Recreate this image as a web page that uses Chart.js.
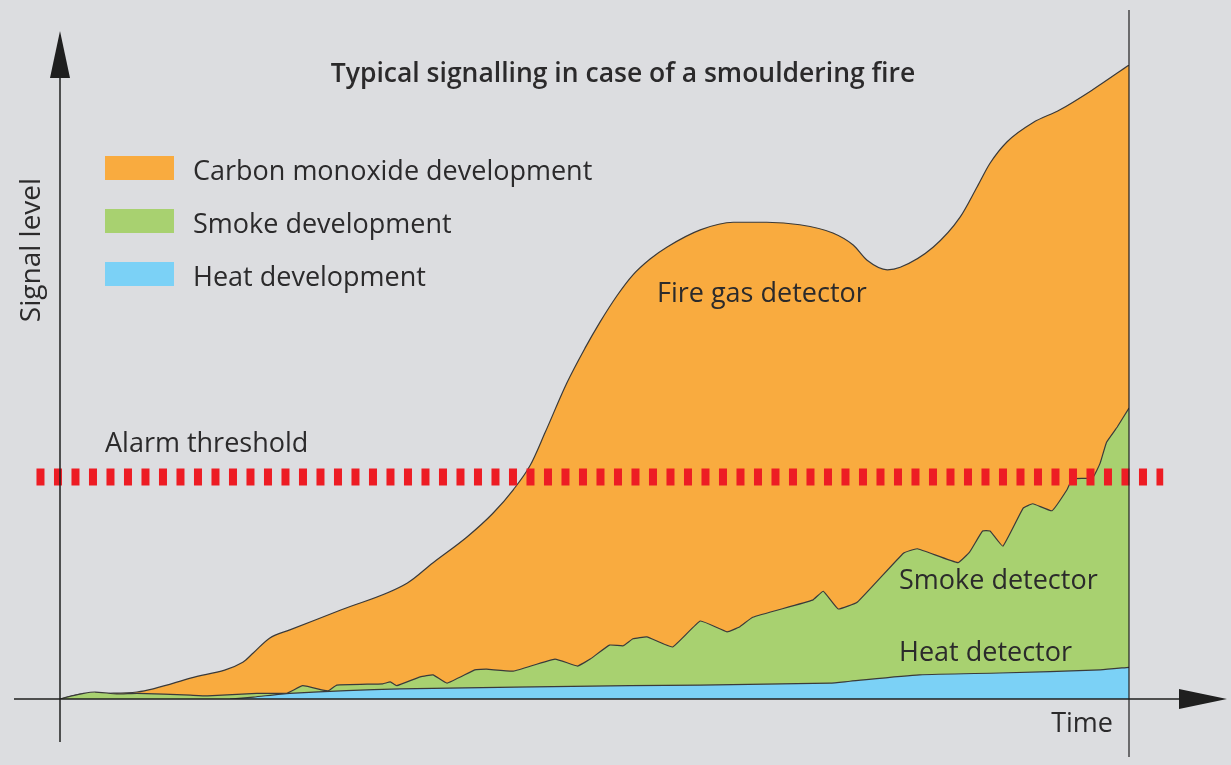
<!DOCTYPE html>
<html>
<head>
<meta charset="utf-8">
<script src="https://cdn.jsdelivr.net/npm/chart.js@4.4.1/dist/chart.umd.min.js"></script>
<style>
  html, body { margin: 0; padding: 0; background: #dcdde0; }
  #wrap { width: 1231px; height: 765px; }
</style>
</head>
<body>
<div id="wrap"><canvas id="chart" width="1231" height="765"></canvas></div>
<script>
const TITLE = 'Typical signalling in case of a smouldering fire';
const SERIES_NAMES = ['Carbon monoxide development', 'Smoke development', 'Heat development'];
const DETECTOR_LABELS = ['Fire gas detector', 'Smoke detector', 'Heat detector'];
const AXIS_X_LABEL = 'Time';
const AXIS_Y_LABEL = 'Signal level';
const THRESHOLD_LABEL = 'Alarm threshold';

// Alarm threshold level and its horizontal span (in time units)
const THRESHOLD = 35;
const THRESHOLD_SPAN = [-2.2, 103.2];

// Carbon monoxide (fire gas) signal
const coTime  = [0, 2.2, 4.5, 7.2, 12.2, 17.1, 18.1, 19.6, 21.5, 26.2, 32.5, 34.9, 38.1, 40.5, 42.4, 44.0, 45.4, 47.4,
                 49.1, 50.5, 52.1, 53.6, 55.2, 56.8, 59.9, 63.0, 66.1, 69.2, 72.3, 74.2, 75.5, 77.4, 78.6, 81.7, 84.2,
                 85.8, 87.0, 88.6, 91.0, 93.5, 96.6, 100];
const coLevel = [0, 0.8, 0.9, 1.1, 3.3, 5.8, 7.3, 9.6, 10.9, 14.0, 18.3, 21.5, 25.6, 29.3, 33.0, 36.9, 42.1, 49.8,
                 55.3, 59.4, 63.6, 66.9, 69.4, 71.3, 74.0, 75.2, 75.2, 74.8, 73.5, 71.6, 69.2, 67.7, 68.1, 71.3, 76.0,
                 80.8, 84.5, 87.9, 90.9, 92.9, 96.1, 100];

// Smoke signal
const smokeTime  = [0, 1.1, 2.2, 3.3, 5.3, 7.2, 12.2, 13.8, 18.4, 21.2, 22.7, 24.6, 25.1, 25.9, 30.2, 30.9, 31.5, 33.7,
                    34.9, 36.2, 38.8, 39.9, 42.4, 46.3, 48.4, 49.6, 51.4, 52.7, 53.6, 54.9, 57.3, 59.9, 62.4, 63.6,
                    64.8, 70.4, 71.4, 72.8, 74.6, 78.9, 80.2, 84.0, 85.1, 86.3, 87.0, 88.2, 90.1, 91.0, 92.8, 94.2,
                    94.7, 96.6, 97.3, 97.9, 98.9, 100];
const smokeLevel = [0, 0.5, 0.9, 1.1, 0.8, 0.9, 0.6, 0.5, 0.9, 0.9, 2.1, 1.4, 1.3, 2.2, 2.4, 2.7, 2.1, 3.5,
                    3.8, 2.5, 4.6, 4.7, 4.4, 6.3, 5.2, 6.3, 8.5, 8.4, 9.5, 9.8, 8.2, 12.3, 10.6, 11.4,
                    12.9, 15.6, 17.0, 14.2, 15.3, 23.0, 23.7, 21.5, 23.2, 26.5, 26.5, 24.1, 30.1, 30.8, 29.7, 33.0,
                    34.7, 34.9, 37.2, 40.5, 42.9, 45.9];

// Heat signal
const heatTime  = [15.9, 18.1, 21.5, 31.8, 53.3, 59.9, 72.0, 73.9, 80.4, 87.9, 97.3, 100];
const heatLevel = [0, 0.3, 0.9, 1.6, 2.1, 2.2, 2.5, 2.8, 3.8, 4.1, 4.6, 5.0];

const COLORS = {
  co:     '#f9ab3f',
  smoke:  '#a8d170',
  heat:   '#7bd1f6',
  alarm:  '#ed1c24',
  ink:    '#2b2a2b',
  edge:   '#3a3a3a'
};
const FONT = '"Open Sans", "Noto Sans", sans-serif';

const toPoints = (xs, ys) => xs.map((t, i) => ({ x: t, y: ys[i] }));

function areaSet(label, xs, ys, color, tension, smooth) {
  return {
    label,
    data: toPoints(xs, ys),
    backgroundColor: color,
    borderColor: COLORS.edge,
    borderWidth: 1.2,
    fill: 'origin',
    tension,
    cubicInterpolationMode: smooth ? 'monotone' : 'default',
    pointRadius: 0
  };
}

const overlay = {
  id: 'overlay',
  afterDatasetsDraw(chart) {
    const { ctx, scales: { x, y } } = chart;
    const x0 = x.getPixelForValue(0), x1 = x.getPixelForValue(100);
    const y0 = y.getPixelForValue(0);

    ctx.save();
    ctx.strokeStyle = '#1f1f1f';
    ctx.fillStyle = '#1f1f1f';
    ctx.lineWidth = 1.5;

    // y axis + arrow
    ctx.beginPath();
    ctx.moveTo(x0, 742); ctx.lineTo(x0, 70);
    ctx.stroke();
    ctx.beginPath();
    ctx.moveTo(x0, 31); ctx.lineTo(x0 - 10, 78); ctx.lineTo(x0 + 10, 78); ctx.closePath();
    ctx.fill();

    // x axis + arrow
    ctx.beginPath();
    ctx.moveTo(14, y0); ctx.lineTo(1185, y0);
    ctx.stroke();
    ctx.beginPath();
    ctx.moveTo(1227, y0); ctx.lineTo(1179, y0 - 10); ctx.lineTo(1179, y0 + 10); ctx.closePath();
    ctx.fill();

    // end-of-time marker
    ctx.lineWidth = 1.2;
    ctx.beginPath();
    ctx.moveTo(x1, 10); ctx.lineTo(x1, 757);
    ctx.stroke();

    // texts
    ctx.fillStyle = COLORS.ink;
    ctx.textBaseline = 'alphabetic';
    const text = (s, px, py, size, weight = 'normal', align = 'left') => {
      ctx.font = `${weight} ${size}px ${FONT}`;
      ctx.textAlign = align;
      ctx.fillText(s, px, py);
    };
    text(TITLE, 623, 82, 26.5, '600', 'center');

    // legend
    const legendColors = [COLORS.co, COLORS.smoke, COLORS.heat];
    const legendTop = [156, 209, 262];
    SERIES_NAMES.forEach((name, i) => {
      ctx.fillStyle = legendColors[i];
      ctx.fillRect(105, legendTop[i], 69, 24);
      ctx.fillStyle = COLORS.ink;
      text(name, 193, legendTop[i] + 24, 27);
    });

    text(THRESHOLD_LABEL, 105, 452, 27);
    text(DETECTOR_LABELS[0], 657, 302, 27);
    text(DETECTOR_LABELS[1], 899, 589, 27);
    text(DETECTOR_LABELS[2], 899, 661, 27);
    text(AXIS_X_LABEL, 1113, 732, 27, 'normal', 'right');

    ctx.save();
    ctx.translate(40, 250);
    ctx.rotate(-Math.PI / 2);
    text(AXIS_Y_LABEL, 0, 0, 28, 'normal', 'center');
    ctx.restore();

    ctx.restore();
  }
};

new Chart(document.getElementById('chart'), {
  type: 'line',
  data: {
    datasets: [
      {
        label: THRESHOLD_LABEL,
        data: THRESHOLD_SPAN.map(t => ({ x: t, y: THRESHOLD })),
        borderColor: COLORS.alarm,
        borderWidth: 17,
        borderDash: [8, 9.5],
        borderCapStyle: 'butt',
        pointRadius: 0,
        fill: false,
        clip: false
      },
      areaSet(SERIES_NAMES[2], heatTime, heatLevel, COLORS.heat, 0.2, false),
      areaSet(SERIES_NAMES[1], smokeTime, smokeLevel, COLORS.smoke, 0.1, false),
      areaSet(SERIES_NAMES[0], coTime, coLevel, COLORS.co, 0.4, true)
    ]
  },
  options: {
    responsive: false,
    animation: false,
    layout: { padding: { left: 60, right: 102, top: 65, bottom: 66 } },
    scales: {
      x: { type: 'linear', min: 0, max: 100, display: false },
      y: { min: 0, max: 100, display: false }
    },
    plugins: {
      legend: { display: false },
      tooltip: { enabled: false }
    }
  },
  plugins: [overlay]
});
</script>
</body>
</html>
